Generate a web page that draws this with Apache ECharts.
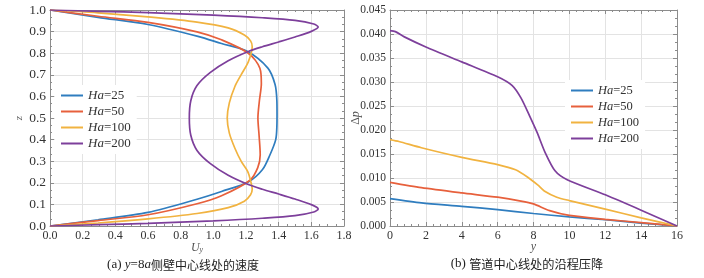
<!DOCTYPE html>
<html>
<head>
<meta charset="utf-8">
<script src="https://cdn.jsdelivr.net/npm/echarts@6/dist/echarts.min.js"></script>
<style>html,body{margin:0;padding:0;background:#fff;}#c{width:704px;height:278px;}</style>
</head>
<body>
<div id="c"></div>
<script>
// ---- data ----
const seriesNames = ['Ha=25', 'Ha=50', 'Ha=100', 'Ha=200'];
const velocityXTicks = [0, 1.8, 0.2];   // min, max, step of U_y axis
const velocityZTicks = [0, 1.0, 0.1];   // min, max, step of z axis
const pressureXTicks = [0, 16, 2];
const pressureYTicks = [0, 0.045, 0.005];

// (a) velocity profiles: [U_y, z]
const velHa25 = [[0,0],[0.294,0.029],[0.6,0.063],[0.9,0.124],[1.05,0.16],[1.214,0.204],[1.30,0.26],[1.347,0.33],[1.382,0.40],[1.389,0.46],[1.39,0.52],[1.389,0.58],[1.378,0.655],[1.334,0.731],[1.204,0.81],[1.05,0.845],[0.906,0.878],[0.6,0.933],[0.294,0.966],[0,1]];
const velHa50 = [[0,0],[0.294,0.025],[0.6,0.052],[0.9,0.103],[1.05,0.14],[1.224,0.212],[1.272,0.27],[1.287,0.33],[1.28,0.42],[1.273,0.5],[1.282,0.58],[1.294,0.66],[1.285,0.73],[1.214,0.80],[1.05,0.862],[0.9,0.899],[0.6,0.943],[0.294,0.971],[0,1]];
const velHa100 = [[0,0],[0.294,0.014],[0.6,0.033],[0.9,0.058],[1.091,0.085],[1.19,0.115],[1.228,0.145],[1.238,0.17],[1.228,0.21],[1.21,0.253],[1.17,0.30],[1.132,0.36],[1.098,0.43],[1.085,0.5],[1.098,0.57],[1.132,0.646],[1.17,0.70],[1.214,0.76],[1.238,0.83],[1.228,0.857],[1.19,0.884],[1.091,0.917],[0.9,0.944],[0.6,0.968],[0.294,0.987],[0,1]];
const velHa200 = [[0,0],[0.3,0.006],[0.6,0.012],[1.0,0.024],[1.3,0.036],[1.50,0.048],[1.615,0.065],[1.642,0.079],[1.60,0.099],[1.50,0.125],[1.40,0.148],[1.30,0.17],[1.214,0.192],[1.091,0.235],[0.98,0.29],[0.90,0.35],[0.862,0.42],[0.853,0.5],[0.862,0.58],[0.90,0.65],[0.98,0.71],[1.091,0.765],[1.214,0.808],[1.30,0.83],[1.40,0.852],[1.50,0.875],[1.60,0.901],[1.642,0.921],[1.615,0.935],[1.50,0.952],[1.3,0.964],[1.0,0.976],[0.6,0.988],[0.3,0.994],[0,1]];

// (b) pressure drop along the duct centre line: [y, Δp]
const dpHa25 = [[0,0.0057],[1.75,0.0048],[4,0.0041],[6,0.0034],[8,0.0026],[10,0.0019],[12,0.0013],[14,0.0006],[16,0]];
const dpHa50 = [[0,0.0091],[1.75,0.0080],[4,0.0069],[6,0.0060],[7.3,0.0052],[8,0.0046],[8.9,0.0032],[10,0.0022],[12,0.0014],[14,0.0007],[16,0]];
const dpHa100 = [[0,0.0180],[0.5,0.0176],[1.75,0.0163],[4,0.0143],[6,0.0128],[7,0.0117],[7.7,0.0101],[8.25,0.0085],[8.6,0.0073],[9.3,0.0060],[10,0.0053],[12,0.0035],[14,0.0017],[16,0]];
const dpHa200 = [[0,0.0407],[0.3,0.0405],[0.8,0.0394],[2,0.0373],[4,0.0342],[6,0.0311],[6.8,0.0293],[7.3,0.0267],[7.8,0.0228],[8.2,0.0195],[8.65,0.0153],[9.2,0.0115],[9.85,0.0097],[12,0.0065],[14,0.0033],[16,0]];

const velocityData = [velHa25, velHa50, velHa100, velHa200];
const pressureData = [dpHa25, dpHa50, dpHa100, dpHa200];
const colors = ['#2f7dbf', '#e7603c', '#f1b340', '#7d3f9b'];

// ---- chart ----
const serif = '"Liberation Serif","Times New Roman",serif';
const chart = echarts.init(document.getElementById('c'), null, {renderer: 'canvas'});

function mainAxis(gridIndex, pos, ticks, fmt, minorSplit, fontSize, extra) {
  return Object.assign({
    type: 'value', gridIndex, position: pos,
    min: ticks[0], max: ticks[1], interval: ticks[2],
    nameMoveOverlap: false,
    axisLine: {show: true, onZero: false, lineStyle: {color: '#8c8c8c', width: 1}},
    axisTick: {show: true, inside: true, length: 4, lineStyle: {color: '#8c8c8c'}},
    minorTick: {show: true, splitNumber: minorSplit, length: 2, lineStyle: {color: '#8c8c8c'}},
    axisLabel: {show: true, formatter: fmt, color: '#333', fontFamily: serif, fontSize: fontSize, margin: 4},
    splitLine: {show: true, lineStyle: {color: '#e3e3e3', width: 1}}
  }, extra || {});
}
function mirrorAxis(gridIndex, pos, ticks, minorSplit) {
  return {
    type: 'value', gridIndex, position: pos,
    min: ticks[0], max: ticks[1], interval: ticks[2],
    axisLine: {show: true, onZero: false, lineStyle: {color: '#8c8c8c', width: 1}},
    axisTick: {show: true, inside: true, length: 4, lineStyle: {color: '#8c8c8c'}},
    minorTick: {show: true, splitNumber: minorSplit, length: 2, lineStyle: {color: '#8c8c8c'}},
    axisLabel: {show: false},
    splitLine: {show: false}
  };
}

const series = [];
seriesNames.forEach((n, i) => {
  series.push({
    name: n, type: 'line', xAxisIndex: 0, yAxisIndex: 0, data: velocityData[i],
    showSymbol: false, symbol: 'none', smooth: 0.3, z: 3,
    lineStyle: {color: colors[i], width: 1.7}, itemStyle: {color: colors[i]}
  });
});
seriesNames.forEach((n, i) => {
  series.push({
    name: n, type: 'line', xAxisIndex: 2, yAxisIndex: 2, data: pressureData[i],
    showSymbol: false, symbol: 'none', smooth: 0.25, z: 3,
    lineStyle: {color: colors[i], width: 1.7}, itemStyle: {color: colors[i]}
  });
});

function legendCommon(fs) {
  return {
    orient: 'vertical', data: seriesNames, itemWidth: 22, itemHeight: 12, itemGap: 3,
    backgroundColor: '#fff', padding: [4, 6, 4, 6], selectedMode: false,
    icon: 'path://M0,5 L22,5 L22,7 L0,7 Z',
    formatter: name => '{i|Ha}{n|' + name.slice(2) + '}',
    textStyle: {
      color: '#333', fontFamily: serif, fontSize: fs,
      rich: {i: {fontStyle: 'italic', fontFamily: serif, fontSize: fs, color: '#333'},
             n: {fontFamily: serif, fontSize: fs, color: '#333'}}
    }
  };
}

const option = {
  animation: false,
  backgroundColor: '#fff',
  color: colors,
  grid: [
    {left: 50, top: 10, width: 294, height: 216},
    {left: 390, top: 10, width: 287, height: 216}
  ],
  xAxis: [
    mainAxis(0, 'bottom', velocityXTicks, v => v.toFixed(1), 4, 12, {
      name: '{u|U}{s|y}', nameLocation: 'middle', nameGap: 15,
      nameTextStyle: {rich: {u: {fontStyle: 'italic', fontFamily: serif, fontSize: 12, color: '#555'},
                             s: {fontStyle: 'italic', fontFamily: serif, fontSize: 8, color: '#555', padding: [5, 0, 0, 0]}}}
    }),
    mirrorAxis(0, 'top', velocityXTicks, 4),
    mainAxis(1, 'bottom', pressureXTicks, v => String(v), 5, 12, {
      name: 'y', nameLocation: 'middle', nameGap: 15,
      nameTextStyle: {fontStyle: 'italic', fontFamily: serif, fontSize: 12, color: '#555'}
    }),
    mirrorAxis(1, 'top', pressureXTicks, 5)
  ],
  yAxis: [
    mainAxis(0, 'left', velocityZTicks, v => v.toFixed(1), 3, 13.5, {
      name: 'z', nameLocation: 'middle', nameGap: 25, nameRotate: 90,
      nameTextStyle: {fontStyle: 'italic', fontFamily: serif, fontSize: 11, color: '#555'}
    }),
    mirrorAxis(0, 'right', velocityZTicks, 3),
    mainAxis(1, 'left', pressureYTicks, v => v.toFixed(3), 3, 11.5, {
      name: '{d|Δ}{p|p}', nameLocation: 'middle', nameGap: 28, nameRotate: 90,
      nameTextStyle: {rich: {d: {fontFamily: serif, fontSize: 12, color: '#555'},
                             p: {fontStyle: 'italic', fontFamily: serif, fontSize: 12, color: '#555'}}}
    }),
    mirrorAxis(1, 'right', pressureYTicks, 3)
  ],
  legend: [
    Object.assign({left: 55, top: 85}, legendCommon(13)),
    Object.assign({left: 565, top: 80}, legendCommon(12.5))
  ],
  graphic: [
    {
      type: 'text', x: 183, y: 265,
      style: {
        text: '{n|(a) }{i|y}{n|=8}{i|a}{c|侧壁中心线处的速度}',
        align: 'center', verticalAlign: 'middle',
        rich: {
          n: {fontFamily: serif, fontSize: 13, fill: '#222'},
          i: {fontFamily: serif, fontStyle: 'italic', fontSize: 13, fill: '#222'},
          c: {fontFamily: '"Noto Sans CJK SC",sans-serif', fontSize: 12, fill: '#222'}
        }
      }
    },
    {
      type: 'text', x: 527, y: 264,
      style: {
        text: '{n|(b) }{c|管道中心线处的沿程压降}',
        align: 'center', verticalAlign: 'middle',
        rich: {
          n: {fontFamily: serif, fontSize: 13, fill: '#222'},
          c: {fontFamily: '"Noto Sans CJK SC",sans-serif', fontSize: 12.2, fill: '#222'}
        }
      }
    }
  ],
  series: series
};
chart.setOption(option);
</script>
</body>
</html>
